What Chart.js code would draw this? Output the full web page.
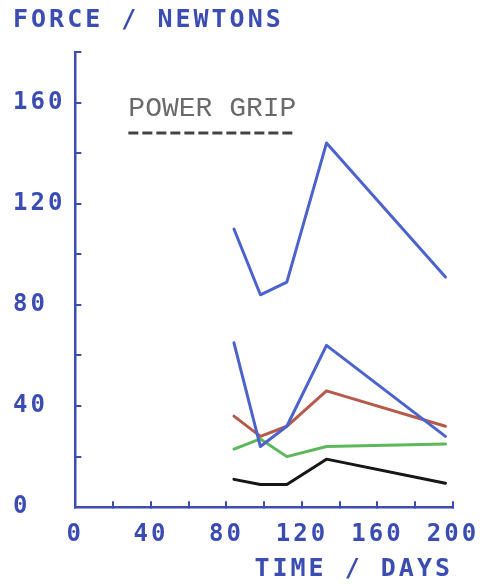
<!DOCTYPE html>
<html>
<head>
<meta charset="utf-8">
<script src="https://cdn.jsdelivr.net/npm/chart.js@4/dist/chart.umd.min.js"></script>
<style>
  html, body { margin: 0; padding: 0; background: #fff; }
  canvas { display: block; }
</style>
</head>
<body>
<canvas id="c" width="487" height="584"></canvas>
<script>
// time points (days) at which grip force was measured
const days = [84, 98, 112, 133, 196];
// force in newtons, one array per trace
const blueUpper = [110, 84, 89, 144, 91];
const blueLower = [65, 24, 32, 64, 28];
const red = [36, 28, 32, 46, 32];
const green = [23, 27, 20, 24, 25];
const black = [11, 9, 9, 19, 9.5];

const xTickLabels = [0, 40, 80, 120, 160, 200];
const yTickLabels = [0, 40, 80, 120, 160];

const INK = '#3b4db3';
const plotterFont = 'DejaVu Sans Mono';

const pts = (ys) => days.map((d, i) => ({ x: d, y: ys[i] }));
const line = (ys, color) => ({
  data: pts(ys),
  borderColor: color,
  borderWidth: 3,
  tension: 0,
  pointRadius: 0,
  borderCapStyle: 'round',
  borderJoinStyle: 'round'
});

// plotter lettering is widely spaced
const spacing = {
  id: 'spacing',
  beforeUpdate(chart) { chart.ctx.letterSpacing = '3px'; },
  beforeDraw(chart) { chart.ctx.letterSpacing = '3px'; }
};

// the typed "POWER GRIP" caption with its dashed underline
const caption = {
  id: 'caption',
  afterDraw(chart) {
    const ctx = chart.ctx;
    const a = chart.chartArea;
    const x0 = a.left + 53;
    ctx.save();
    ctx.letterSpacing = '0px';
    ctx.font = '28px "Liberation Mono"';
    ctx.fillStyle = '#6a6a6a';
    ctx.textBaseline = 'middle';
    ctx.textAlign = 'left';
    ctx.fillText('POWER GRIP', x0, a.top + 57);
    const w = ctx.measureText('POWER GRIP').width;
    ctx.strokeStyle = '#444';
    ctx.lineWidth = 3;
    ctx.setLineDash([10, 4]);
    ctx.beginPath();
    ctx.moveTo(x0, a.top + 81);
    ctx.lineTo(x0 + w, a.top + 81);
    ctx.stroke();
    ctx.restore();
  }
};

new Chart(document.getElementById('c'), {
  type: 'line',
  data: {
    datasets: [
      line(blueUpper, '#4c62cc'),
      line(blueLower, '#4c62cc'),
      line(red, '#b65a4c'),
      line(green, '#5cb85a'),
      line(black, '#161616')
    ]
  },
  options: {
    responsive: false,
    animation: false,
    layout: { padding: { left: 13, right: 12, top: 0, bottom: 0 } },
    plugins: {
      legend: { display: false },
      tooltip: { enabled: false },
      title: {
        display: true,
        text: 'FORCE / NEWTONS',
        align: 'start',
        color: INK,
        font: { family: plotterFont, size: 25, weight: 'bold' },
        padding: { top: 5, bottom: 17 }
      }
    },
    scales: {
      x: {
        type: 'linear',
        min: 0,
        max: 200,
        afterFit: (s) => { s.paddingRight = 34; },
        border: { color: INK, width: 2.5 },
        grid: { drawOnChartArea: false, color: INK, lineWidth: 2, tickLength: -6 },
        ticks: {
          stepSize: 20,
          color: INK,
          font: { family: plotterFont, size: 24, weight: 'bold' },
          padding: 19,
          maxRotation: 0,
          autoSkip: false,
          callback: (v) => xTickLabels.includes(v) ? String(v) : ''
        },
        title: {
          display: true,
          text: 'TIME / DAYS',
          align: 'end',
          color: INK,
          font: { family: plotterFont, size: 25, weight: 'bold' },
          padding: { top: -14, bottom: 0 }
        }
      },
      y: {
        type: 'linear',
        min: 0,
        max: 180,
        border: { color: INK, width: 2.5 },
        grid: { drawOnChartArea: false, color: INK, lineWidth: 2, tickLength: -6 },
        ticks: {
          stepSize: 20,
          color: INK,
          font: { family: plotterFont, size: 24, weight: 'bold' },
          padding: 8,
          crossAlign: 'far',
          autoSkip: false,
          callback: (v) => yTickLabels.includes(v) ? String(v) : ''
        }
      }
    }
  },
  plugins: [spacing, caption]
});
</script>
</body>
</html>
